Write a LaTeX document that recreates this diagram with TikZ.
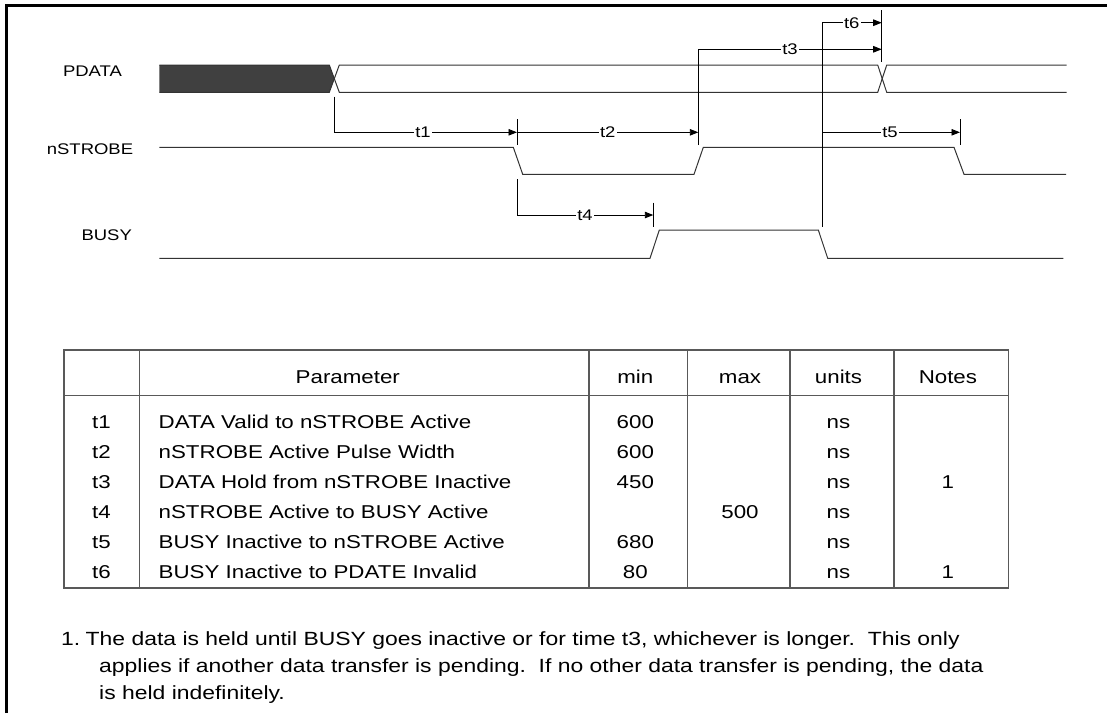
\documentclass[tikz,border=0pt]{standalone}
\usepackage{fontspec}
\setmainfont{Liberation Sans}[FakeStretch=1.2]
\usetikzlibrary{arrows.meta}
\begin{document}
\begin{tikzpicture}[x=1pt,y=-1pt,
  sig/.style={line width=1pt, draw=black!80, line join=miter},
  dim/.style={line width=0.9pt, draw=black},
  arr/.style={dim, -{Triangle[length=8.5pt,width=6.5pt]}},
  tk/.style={line width=0.9pt, draw=black},
  lbl/.style={font=\fontsize{15.4}{18}\selectfont, inner sep=0pt},
  tl/.style={font=\fontsize{15.4}{18}\selectfont, fill=white, inner sep=1.5pt},
  tab/.style={font=\fontsize{18.6}{22}\selectfont, anchor=base, inner sep=0pt},
  tabw/.style={tab, anchor=base west},
  note/.style={font=\fontsize{19.1}{22}\selectfont, anchor=base west, inner sep=0pt},
  grid/.style={line width=1.2pt, draw=black!65}]
\useasboundingbox (0,0) rectangle (1107,713);
% frame
\draw[line width=3pt] (6,713) -- (6,5) -- (1107,5);
% signal names
\node[lbl] (pdata) at (92.5,70.7) {PDATA};
\node[lbl] (nstrobe) at (90,149) {nSTROBE};
\node[lbl] (busy) at (106.7,235) {BUSY};
% PDATA bus
\fill[black!75] (159.3,65) -- (329.3,65) -- (334.3,78.6) -- (329.3,92.3) -- (159.3,92.3) -- cycle;
\draw[sig] (159.3,65) -- (329.3,65) -- (339.3,92.3) -- (877.7,92.3) -- (886.7,65) -- (1066.7,65);
\draw[sig] (159.3,92.3) -- (329.3,92.3) -- (339.3,65) -- (877.7,65) -- (886.7,92.3) -- (1066.7,92.3);
% nSTROBE
\draw[sig] (159.3,147.3) -- (513.3,147.3) -- (522.7,174.3) -- (694,174.3) -- (703.3,147.3) -- (954,147.3) -- (964,174.3) -- (1066,174.3);
% BUSY
\draw[sig] (159.3,258.3) -- (650,258.3) -- (659.3,230) -- (818.3,230) -- (827.7,258.3) -- (1063.3,258.3);
% coordinates for timing marks
\coordinate (t1s) at (334.3,96.7);
\coordinate (t1e) at (517,132.3);
\coordinate (t2e) at (698.3,132.3);
\coordinate (t3s) at (698.3,145);
\coordinate (t3e) at (881.7,49.3);
\coordinate (t6s) at (822.7,226.7);
\coordinate (t6e) at (881.7,22.7);
\coordinate (t5s) at (822.7,132.3);
\coordinate (t5e) at (960,132.3);
\coordinate (t4s) at (517,179);
\coordinate (t4e) at (653.3,215);
% ticks
\coordinate (k1a) at (517,119);   \coordinate (k1b) at (517,145);
\coordinate (k3a) at (881.7,10);  \coordinate (k3b) at (881.7,61.7);
\coordinate (k5a) at (960,119);   \coordinate (k5b) at (960,145);
\coordinate (k4a) at (653.3,202.7); \coordinate (k4b) at (653.3,226.7);
\draw[tk] (k1a) -- (k1b);
\draw[tk] (k3a) -- (k3b);
\draw[tk] (k5a) -- (k5b);
\draw[tk] (k4a) -- (k4b);
% arrows
\draw[arr] (t1s) |- (t1e);
\draw[arr] (t1e) -- (t2e);
\draw[arr] (t3s) |- (t3e);
\draw[arr] (t6s) |- (t6e);
\draw[arr] (t5s) -- (t5e);
\draw[arr] (t4s) |- (t4e);
% timing labels
\node[tl] (l1) at (423,132.3) {t1};
\node[tl] (l2) at (607.7,132.3) {t2};
\node[tl] (l3) at (790,49.3) {t3};
\node[tl] (l4) at (585,215) {t4};
\node[tl] (l5) at (890,132.3) {t5};
\node[tl] (l6) at (851.7,22.7) {t6};
% table
\draw[grid] (64,350) rectangle (1008.3,588);
\draw[grid] (64,395.5) -- (1008.3,395.5);
\foreach \cx in {139.3,589,687.5,790,893.9} \draw[grid] (\cx,350) -- (\cx,588);
\node[tab] (hp) at (347.8,383) {Parameter};
\node[tab] (hmin) at (635.3,383) {min};
\node[tab] (hmax) at (740,383) {max};
\node[tab] (hu) at (838.5,383) {units};
\node[tab] (hn) at (947.9,383) {Notes};
% rows
\node[tab] (r1a) at (101.5,428) {t1};
\node[tabw] (r1b) at (158.5,428) {DATA Valid to nSTROBE Active};
\node[tab] (r1c) at (635.3,428) {600};
\node[tab] (r1u) at (838.5,428) {ns};
\node[tab] (r2a) at (101.5,458) {t2};
\node[tabw] (r2b) at (158.5,458) {nSTROBE Active Pulse Width};
\node[tab] (r2c) at (635.3,458) {600};
\node[tab] (r2u) at (838.5,458) {ns};
\node[tab] (r3a) at (101.5,488) {t3};
\node[tabw] (r3b) at (158.5,488) {DATA Hold from nSTROBE Inactive};
\node[tab] (r3c) at (635.3,488) {450};
\node[tab] (r3u) at (838.5,488) {ns};
\node[tab] (r3n) at (947.9,488) {1};
\node[tab] (r4a) at (101.5,518) {t4};
\node[tabw] (r4b) at (158.5,518) {nSTROBE Active to BUSY Active};
\node[tab] (r4d) at (740,518) {500};
\node[tab] (r4u) at (838.5,518) {ns};
\node[tab] (r5a) at (101.5,548) {t5};
\node[tabw] (r5b) at (158.5,548) {BUSY Inactive to nSTROBE Active};
\node[tab] (r5c) at (635.3,548) {680};
\node[tab] (r5u) at (838.5,548) {ns};
\node[tab] (r6a) at (101.5,578) {t6};
\node[tabw] (r6b) at (158.5,578) {BUSY Inactive to PDATE Invalid};
\node[tab] (r6c) at (635.3,578) {80};
\node[tab] (r6u) at (838.5,578) {ns};
\node[tab] (r6n) at (947.9,578) {1};
% notes
\node[note] (n0) at (61,645) {1.};
\node[note] (n1) at (85.5,645) {The data is held until BUSY goes inactive or for time t3, whichever is longer.\ \ This only};
\node[note] (n2) at (99,672) {applies if another data transfer is pending.\ \ If no other data transfer is pending, the data};
\node[note] (n3) at (99,699) {is held indefinitely.};
\end{tikzpicture}
\end{document}
